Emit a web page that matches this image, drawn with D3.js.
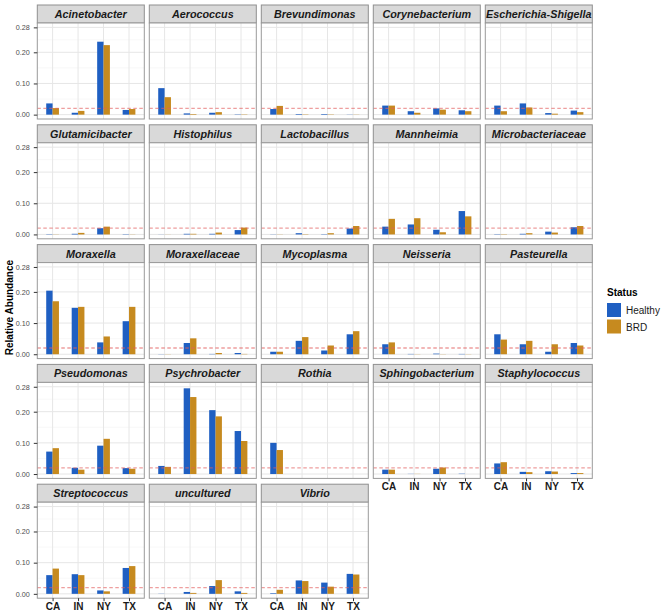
<!DOCTYPE html>
<html>
<head>
<meta charset="utf-8">
<script src="https://cdn.jsdelivr.net/npm/d3@7"></script>
<style>
  body { margin: 0; background: #fff; }
  svg { font-family: "Liberation Sans", Arial, sans-serif; }
</style>
</head>
<body>
<div id="chart"></div>
<script>
// data
var states = ["CA", "IN", "NY", "TX"];
var statusGroups = ["Healthy", "BRD"];
var taxa = ["Acinetobacter", "Aerococcus", "Brevundimonas", "Corynebacterium", "Escherichia-Shigella",
  "Glutamicibacter", "Histophilus", "Lactobacillus", "Mannheimia", "Microbacteriaceae",
  "Moraxella", "Moraxellaceae", "Mycoplasma", "Neisseria", "Pasteurella",
  "Pseudomonas", "Psychrobacter", "Rothia", "Sphingobacterium", "Staphylococcus",
  "Streptococcus", "uncultured", "Vibrio"];

// one row per taxon, values for CA, IN, NY, TX
var healthy = [
  [0.036, 0.006, 0.234, 0.015],
  [0.085, 0.004, 0.006, 0.001],
  [0.018, 0.002, 0.002, 0.0005],
  [0.029, 0.011, 0.020, 0.014],
  [0.029, 0.036, 0.005, 0.013],
  [0.001, 0.002, 0.020, 0.001],
  [0.0003, 0.002, 0.002, 0.014],
  [0.0005, 0.004, 0.001, 0.019],
  [0.025, 0.032, 0.015, 0.075],
  [0.001, 0.002, 0.009, 0.023],
  [0.204, 0.149, 0.038, 0.106],
  [0.0005, 0.036, 0.001, 0.004],
  [0.008, 0.043, 0.012, 0.064],
  [0.032, 0.001, 0.002, 0.001],
  [0.064, 0.032, 0.008, 0.036],
  [0.072, 0.020, 0.091, 0.019],
  [0.026, 0.275, 0.205, 0.138],
  [0.100, 0, 0, 0],
  [0.014, 0.0005, 0.017, 0.001],
  [0.034, 0.007, 0.009, 0.003],
  [0.060, 0.063, 0.011, 0.083],
  [0.0005, 0.006, 0.025, 0.008],
  [0.002, 0.043, 0.036, 0.064]
];
var brd = [
  [0.021, 0.012, 0.223, 0.018],
  [0.056, 0.002, 0.008, 0.001],
  [0.028, 0.001, 0.001, 0.0005],
  [0.029, 0.006, 0.016, 0.011],
  [0.011, 0.023, 0.003, 0.008],
  [0.0005, 0.005, 0.025, 0.0005],
  [0.0003, 0.002, 0.006, 0.022],
  [0.0005, 0.001, 0.004, 0.027],
  [0.050, 0.052, 0.007, 0.058],
  [0.001, 0.004, 0.006, 0.027],
  [0.170, 0.152, 0.057, 0.152],
  [0.0005, 0.051, 0.004, 0.001],
  [0.008, 0.055, 0.028, 0.074],
  [0.038, 0.0005, 0.0005, 0.0005],
  [0.047, 0.043, 0.032, 0.028],
  [0.083, 0.014, 0.113, 0.017],
  [0.023, 0.247, 0.185, 0.106],
  [0.077, 0, 0, 0],
  [0.014, 0.0005, 0.021, 0],
  [0.038, 0.006, 0.008, 0.003],
  [0.081, 0.060, 0.008, 0.089],
  [0, 0.003, 0.044, 0.003],
  [0.013, 0.041, 0.023, 0.062]
];
var yBreaks = [0, 0.10, 0.20, 0.28];
var yMinor = [0.05, 0.15, 0.24];
var cutoff = 0.02;

// layout
var width = 669, height = 615;
var marginLeft = 37.3, marginTop = 5;
var panelW = 107, colStep = 112;
var stripH = 18, panelH = 96, rowStep = 119.8;
var ncol = 5;

var color = d3.scaleOrdinal().domain(statusGroups).range(["#1F5FC2", "#C68A1F"]);

var svg = d3.select("#chart").append("svg")
  .attr("width", width)
  .attr("height", height);

// scales shared by every panel
var y = d3.scaleLinear().domain([-0.014, 0.294]).range([panelH, 0]);
var x = d3.scalePoint().domain(states).range([0, panelW]).padding(0.6);
var step = x.step();
var xInner = d3.scaleBand().domain(statusGroups).range([-0.25 * step, 0.25 * step]);

taxa.forEach(function(name, i) {
  var col = i % ncol, row = Math.floor(i / ncol);
  var g = svg.append("g")
    .attr("transform", "translate(" + (marginLeft + col * colStep) + "," + (marginTop + row * rowStep) + ")");

  // strip
  g.append("rect")
    .attr("x", 0).attr("y", 0)
    .attr("width", panelW).attr("height", stripH)
    .attr("fill", "#D9D9D9")
    .attr("stroke", "#8f8f8f").attr("stroke-width", 1);
  g.append("text")
    .attr("x", panelW / 2).attr("y", stripH / 2 + 4)
    .attr("text-anchor", "middle")
    .style("font-size", "10.8px")
    .style("font-weight", "bold")
    .style("font-style", "italic")
    .attr("fill", "#1A1A1A")
    .text(name);

  var p = g.append("g").attr("transform", "translate(0," + stripH + ")");

  p.append("rect")
    .attr("width", panelW).attr("height", panelH)
    .attr("fill", "#fff");

  // grid
  p.selectAll(".minor").data(yMinor).enter().append("line")
    .attr("x1", 0).attr("x2", panelW)
    .attr("y1", function(d) { return y(d); })
    .attr("y2", function(d) { return y(d); })
    .attr("stroke", "#F3F3F3").attr("stroke-width", 0.6);
  p.selectAll(".major").data(yBreaks).enter().append("line")
    .attr("x1", 0).attr("x2", panelW)
    .attr("y1", function(d) { return y(d); })
    .attr("y2", function(d) { return y(d); })
    .attr("stroke", "#E6E6E6").attr("stroke-width", 1);
  p.selectAll(".vgrid").data(states).enter().append("line")
    .attr("x1", function(d) { return x(d); })
    .attr("x2", function(d) { return x(d); })
    .attr("y1", 0).attr("y2", panelH)
    .attr("stroke", "#E6E6E6").attr("stroke-width", 1);

  // bars
  var rows = [];
  states.forEach(function(s, j) {
    rows.push({state: s, status: "Healthy", value: healthy[i][j]});
    rows.push({state: s, status: "BRD", value: brd[i][j]});
  });
  p.selectAll(".bar").data(rows).enter().append("rect")
    .attr("x", function(d) { return x(d.state) + xInner(d.status); })
    .attr("width", xInner.bandwidth())
    .attr("y", function(d) { return y(d.value); })
    .attr("height", function(d) { return y(0) - y(d.value); })
    .attr("fill", function(d) { return color(d.status); });

  // cutoff line
  p.append("line")
    .attr("x1", 0).attr("x2", panelW)
    .attr("y1", y(cutoff)).attr("y2", y(cutoff))
    .attr("stroke", "#E35D5D").attr("stroke-opacity", 0.6)
    .attr("stroke-width", 1.3)
    .attr("stroke-dasharray", "3.5,2.5");

  // border
  p.append("rect")
    .attr("width", panelW).attr("height", panelH)
    .attr("fill", "none")
    .attr("stroke", "#9a9a9a").attr("stroke-width", 1);

  if (col === 0) {
    var ya = p.append("g")
      .call(d3.axisLeft(y).tickValues(yBreaks).tickFormat(d3.format(".2f"))
        .tickSize(3.5).tickPadding(4));
    ya.select(".domain").remove();
    ya.selectAll("line").attr("stroke", "#333");
    ya.selectAll("text").attr("fill", "#4D4D4D").style("font-size", "7.2px");
  }

  if (i + ncol >= taxa.length) {
    var xa = p.append("g")
      .attr("transform", "translate(0," + panelH + ")")
      .call(d3.axisBottom(x).tickSize(3).tickPadding(2));
    xa.select(".domain").remove();
    xa.selectAll("line").attr("stroke", "#333");
    xa.selectAll("text").attr("fill", "#1A1A1A")
      .style("font-size", "10px").style("font-weight", "bold");
  }
});

// y title
var gridMid = marginTop + (4 * rowStep + stripH + panelH) / 2;
svg.append("text")
  .attr("transform", "translate(13," + (gridMid + 6) + ") rotate(-90)")
  .attr("text-anchor", "middle")
  .style("font-size", "10px")
  .style("font-weight", "bold")
  .text("Relative Abundance");

// legend
var legend = svg.append("g").attr("transform", "translate(607,282)");
legend.append("text")
  .attr("x", 0).attr("y", 14)
  .style("font-size", "10px").style("font-weight", "bold")
  .text("Status");
var items = legend.selectAll(".item").data(statusGroups).enter().append("g")
  .attr("transform", function(d, k) { return "translate(0," + (21 + k * 16.5) + ")"; });
items.append("rect")
  .attr("width", 14).attr("height", 14)
  .attr("fill", function(d) { return color(d); });
items.append("text")
  .attr("x", 19).attr("y", 11)
  .style("font-size", "10px")
  .attr("fill", "#1A1A1A")
  .text(function(d) { return d; });
</script>
</body>
</html>
